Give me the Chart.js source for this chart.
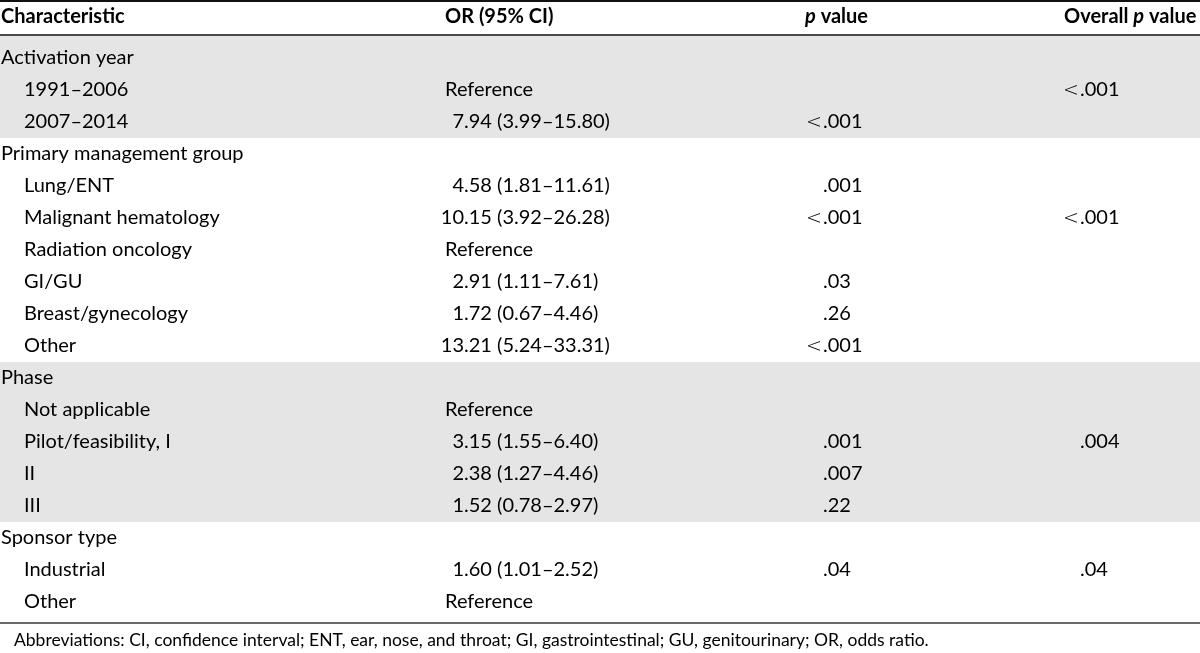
<!DOCTYPE html>
<html>
<head>
<meta charset="utf-8">
<script src="https://cdn.jsdelivr.net/npm/chart.js"></script>
<style>
  html, body { margin: 0; padding: 0; background: #fff; }
  #wrap { width: 1200px; height: 653px; position: relative; }
</style>
</head>
<body>
<div id="wrap"><canvas id="tbl"></canvas></div>
<script>
// table contents
const headers = ['Characteristic', 'OR (95% CI)', 'p value', 'Overall p value']
const rowLabels = ['Activation year', '1991–2006', '2007–2014',
  'Primary management group', 'Lung/ENT', 'Malignant hematology', 'Radiation oncology', 'GI/GU', 'Breast/gynecology', 'Other',
  'Phase', 'Not applicable', 'Pilot/feasibility, I', 'II', 'III',
  'Sponsor type', 'Industrial', 'Other']
// 0 = group heading, 1 = item inside a group
const rowLevel = [0, 1, 1, 0, 1, 1, 1, 1, 1, 1, 0, 1, 1, 1, 1, 0, 1, 1]
const orValues = ['', 'Reference', '7.94 (3.99–15.80)',
  '', '4.58 (1.81–11.61)', '10.15 (3.92–26.28)', 'Reference', '2.91 (1.11–7.61)', '1.72 (0.67–4.46)', '13.21 (5.24–33.31)',
  '', 'Reference', '3.15 (1.55–6.40)', '2.38 (1.27–4.46)', '1.52 (0.78–2.97)',
  '', '1.60 (1.01–2.52)', 'Reference']
const pValues = ['', '', '<.001',
  '', '.001', '<.001', '', '.03', '.26', '<.001',
  '', '', '.001', '.007', '.22',
  '', '.04', '']
const overallP = ['', '<.001', '',
  '', '', '<.001', '', '', '', '',
  '', '', '.004', '', '',
  '', '.04', '']
// first and last row of each shaded group
const shadedGroups = [[0, 2], [10, 14]]
const footnote = 'Abbreviations: CI, confidence interval; ENT, ear, nose, and throat; GI, gastrointestinal; GU, genitourinary; OR, odds ratio.'

// layout (x in px-like units of the x scale, y in row units)
const FONT = 'Lato'
const SIZE = 20
const colX = { label: 1, indent: 24, orText: 445, orDec: 464, pDec: 823, allDec: 1080 }
const headX = [1, 445, 805, 1064]
const headRow = -1.31
const footRow = 18.2
const rules = [
  { y: -1.78, color: '#111', w: 2 },
  { y: -0.72, color: '#4a4a4a', w: 2 },
  { y: 17.66, color: '#6a6a6a', w: 2 }
]

function colPoints(values, x) {
  return values.map((t, i) => ({ x: x, y: i, t: t }))
}

const cellPlugin = {
  id: 'cells',
  beforeDatasetsDraw(chart) {
    const ctx = chart.ctx
    const xs = chart.scales.x, ys = chart.scales.y
    const left = xs.getPixelForValue(0), right = xs.getPixelForValue(1200)
    ctx.save()
    ctx.fillStyle = '#e5e5e5'
    shadedGroups.forEach(g => {
      const top = ys.getPixelForValue(g[0] === 0 ? rules[1].y : g[0] - 0.5)
      const bot = ys.getPixelForValue(g[1] + 0.5)
      ctx.fillRect(left, top, right - left, bot - top)
    })
    rules.forEach(r => {
      const y = ys.getPixelForValue(r.y)
      ctx.fillStyle = r.color
      ctx.fillRect(left, Math.round(y - r.w / 2), right - left, r.w)
    })
    ctx.restore()
  },
  afterDatasetsDraw(chart) {
    const ctx = chart.ctx
    const xs = chart.scales.x, ys = chart.scales.y
    ctx.save()
    ctx.textBaseline = 'middle'
    ctx.fillStyle = '#000'
    const bodyFont = SIZE + 'px ' + FONT

    chart.data.datasets.forEach((ds, di) => {
      const meta = chart.getDatasetMeta(di)
      meta.data.forEach((el, i) => {
        const t = ds.data[i].t
        if (!t) return
        ctx.font = bodyFont
        if (ds.kind === 'label') {
          ctx.textAlign = 'left'
          const x = rowLevel[i] ? xs.getPixelForValue(colX.indent) : el.x
          ctx.fillText(t, x, el.y)
        } else {
          const dot = t.indexOf('.')
          if (dot < 0) {
            ctx.textAlign = 'left'
            ctx.fillText(t, xs.getPixelForValue(colX.orText), el.y)
          } else {
            const pre = t.slice(0, dot)
            ctx.textAlign = 'right'
            if (pre === '<') {
              // thin, wide less-than sign like the typeset original
              ctx.font = '200 19px "DejaVu Sans"'
              ctx.fillText(pre, el.x - 1, el.y + 1)
              ctx.font = bodyFont
            } else {
              ctx.fillText(pre, el.x, el.y)
            }
            ctx.textAlign = 'left'
            ctx.fillText(t.slice(dot), el.x, el.y)
          }
        }
      })
    })

    // header row, bold with italic p
    const hy = ys.getPixelForValue(headRow)
    ctx.textAlign = 'left'
    headers.forEach((h, i) => {
      let x = xs.getPixelForValue(headX[i])
      h.split(/(\bp\b)/).forEach(part => {
        if (!part) return
        ctx.font = (part === 'p' ? 'italic bold ' : 'bold ') + SIZE + 'px ' + FONT
        ctx.fillText(part, x, hy)
        x += ctx.measureText(part).width
      })
    })

    ctx.font = '17.5px ' + FONT
    ctx.fillText(footnote, xs.getPixelForValue(14), ys.getPixelForValue(footRow))
    ctx.restore()
  }
}

new Chart(document.getElementById('tbl'), {
  type: 'scatter',
  data: {
    datasets: [
      { kind: 'label', data: colPoints(rowLabels, colX.label) },
      { kind: 'num', data: colPoints(orValues, colX.orDec) },
      { kind: 'num', data: colPoints(pValues, colX.pDec) },
      { kind: 'num', data: colPoints(overallP, colX.allDec) }
    ]
  },
  options: {
    responsive: true,
    maintainAspectRatio: false,
    animation: false,
    events: [],
    layout: { padding: 0 },
    elements: { point: { radius: 0, hoverRadius: 0 } },
    plugins: { legend: { display: false }, tooltip: { enabled: false } },
    scales: {
      x: { type: 'linear', min: 0, max: 1200, display: false },
      y: { type: 'linear', min: -1.8125, max: 18.594, reverse: true, display: false }
    }
  },
  plugins: [cellPlugin]
})
</script>
</body>
</html>
